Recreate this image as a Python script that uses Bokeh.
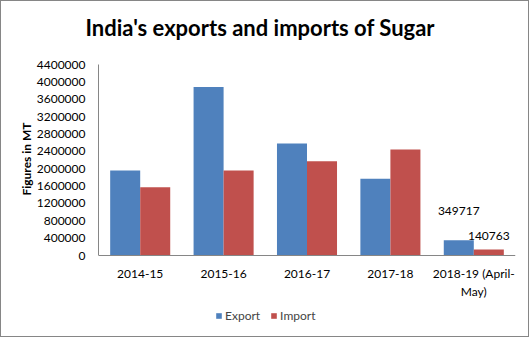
from bokeh.plotting import figure
from bokeh.models import (FactorRange, FixedTicker, NumeralTickFormatter, Legend,
                          LegendItem, ColumnDataSource, Range1d, Title)
from bokeh.transform import dodge
from bokeh.core.properties import value
from bokeh.embed import file_html
from bokeh.resources import INLINE

title = "India's exports and imports of Sugar"
years = ["2014-15", "2015-16", "2016-17", "2017-18", "2018-19 (April-\nMay)"]
export = [1960000, 3880000, 2580000, 1770000, 349717]
imports = [1570000, 1960000, 2170000, 2440000, 140763]
y_ticks = [0, 400000, 800000, 1200000, 1600000, 2000000, 2400000,
           2800000, 3200000, 3600000, 4000000, 4400000]
y_label = "Figures in MT"
series = ["Export", "Import"]
colors = ["#4F81BD", "#C0504D"]

FONT = "Lato"
src = ColumnDataSource(dict(x=years, exp=export, imp=imports,
                            exp_lbl=[""] * 4 + [str(export[-1])],
                            imp_lbl=[""] * 4 + [str(imports[-1])]))

# layout geometry (pixels): value axis is 191 px tall, and the frame
# continues 83 px below zero so the category labels and legend fit in it
AXIS_PX, BELOW_PX = 191, 83
y_max = y_ticks[-1]
y_min = -y_max * BELOW_PX / AXIS_PX

p = figure(width=529, height=337, output_backend="svg", toolbar_location=None,
           title=None,
           x_range=FactorRange(*years, range_padding=0),
           y_range=Range1d(y_min, y_max),
           min_border_left=97, min_border_right=15, min_border_top=63,
           min_border_bottom=0)
p.styles = {"border": "1px solid #868686"}
p.outline_line_color = None
p.grid.grid_line_color = None
p.background_fill_color = None

p.add_layout(Title(text=" ", text_font_size="7px"), "above")
p.add_layout(Title(text=title, align="left", offset=-13, text_font=FONT,
                   text_font_size="22px", text_font_style="bold",
                   text_color="#000000"), "above")
# value-axis title, placed near the top of the frame
p.add_layout(Title(text=y_label, align="right", offset=58, standoff=0,
                   text_font=FONT, text_font_size="12px",
                   text_font_style="bold", text_color="#000000"), "left")

r1 = p.vbar(x=dodge("x", -0.18, range=p.x_range), top="exp", width=0.36,
            source=src, fill_color=colors[0], line_color=None)
r2 = p.vbar(x=dodge("x", 0.18, range=p.x_range), top="imp", width=0.36,
            source=src, fill_color=colors[1], line_color=None)

p.text(x=dodge("x", -0.18, range=p.x_range), y="exp", text="exp_lbl", source=src,
       text_font=value(FONT), text_font_size="12px", text_align="center",
       text_baseline="middle", y_offset=-29, text_color="#000000")
p.text(x=dodge("x", 0.18, range=p.x_range), y="imp", text="imp_lbl", source=src,
       text_font=value(FONT), text_font_size="12px", text_align="center",
       text_baseline="middle", y_offset=-13, text_color="#000000")

p.xaxis.fixed_location = 0
p.yaxis.bounds = (0, y_max)
p.yaxis.ticker = FixedTicker(ticks=y_ticks)
p.yaxis.formatter = NumeralTickFormatter(format="0")
for ax in (p.xaxis, p.yaxis):
    ax.axis_line_color = "#868686"
    ax.major_tick_line_color = None
    ax.minor_tick_line_color = None
    ax.major_label_text_font = FONT
    ax.major_label_text_font_size = "12px"
    ax.major_label_text_color = "#000000"
p.yaxis.major_label_standoff = 7
p.xaxis.major_label_standoff = 4

legend = Legend(items=[LegendItem(label=series[0], renderers=[r1]),
                       LegendItem(label=series[1], renderers=[r2])],
                orientation="horizontal", location=(117, 15),
                label_text_font=FONT, label_text_font_size="12px",
                glyph_width=7, glyph_height=7, spacing=10, label_standoff=3,
                label_height=12, border_line_color=None,
                background_fill_alpha=0, margin=0, padding=0)
p.add_layout(legend, "center")

open("out.html", "w").write(file_html(p, INLINE))
